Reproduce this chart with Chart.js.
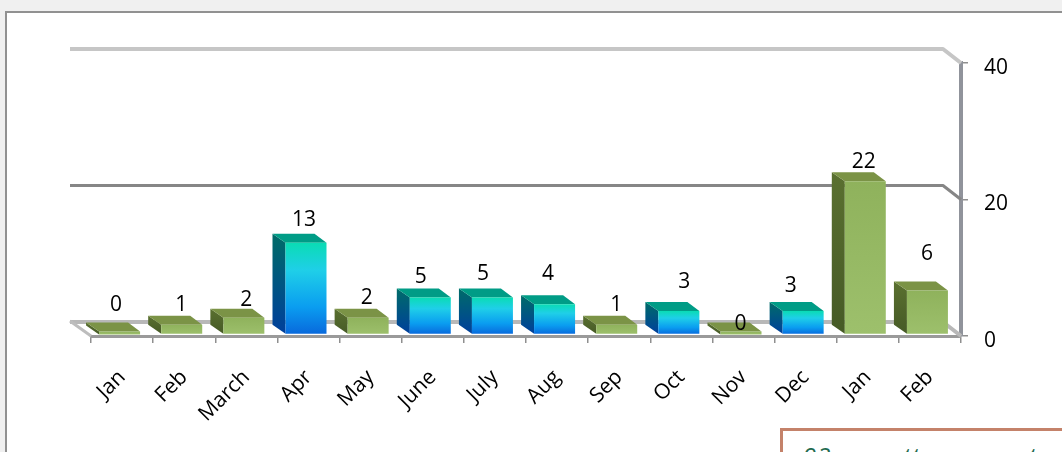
<!DOCTYPE html>
<html lang="en">
<head>
    <meta charset="UTF-8">
    <title>Monthly bars</title>
    <script src="https://cdn.jsdelivr.net/npm/chart.js"></script>
    <style>
        html, body { margin: 0; height: 100%; overflow: hidden; background: #f0f0f0; }
        #panel { position: absolute; left: 5px; top: 11px; width: 1100px; height: 500px; background: #fff; border: 2px solid #919191; }
        #note { position: absolute; left: 780px; top: 428px; width: 400px; height: 80px; background: #fff; border: 3px solid #c4826a;
                box-sizing: border-box; padding: 8px 0 0 20px; font: italic 24px "Open Sans", sans-serif; letter-spacing: 1px; color: #1f6b50; white-space: nowrap; }
        #myChart { position: absolute; left: 0; top: 0; }
    </style>
</head>
<body>
    <div id="panel"></div>
    <div id="note">92 mouettes au cent</div>
    <canvas id="myChart" width="1062" height="452"></canvas>

    <script>
        const months = ['Jan', 'Feb', 'March', 'Apr', 'May', 'June', 'July', 'Aug', 'Sep', 'Oct', 'Nov', 'Dec', 'Jan', 'Feb'];
        const counts = [0, 1, 2, 13, 2, 5, 5, 4, 1, 3, 0, 3, 22, 6];
        const blueBars = [false, false, false, true, false, true, true, true, false, true, false, true, false, false];
        const yTicks = [0, 20, 40];

        const labelFont = '"Open Sans", sans-serif';

        // the value labels sit irregularly in the original, nudge each one by hand
        const labelDx = [-6, -3, 0, -4.5, -4, -12, -12, -9, -3, 3, -3, -15, -4, -3];
        const labelDy = [-31, -24, -22, -27, -24, -25, -28, -35, -24, -33.5, -12, -29.5, -24, -41];

        const wallColors = ['#b8b8b8', '#868686', '#c6c6c6'];
        const inflate = 1.5;

        const fillPoly = (ctx, points, fill) => {
            ctx.fillStyle = fill;
            ctx.beginPath();
            points.forEach((p, i) => i ? ctx.lineTo(p[0], p[1]) : ctx.moveTo(p[0], p[1]));
            ctx.closePath();
            ctx.fill();
        };

        const fakeDepthPlugin = {
            id: 'fakeDepthPlugin',
            beforeDatasetsDraw: (chart) => {
                const { ctx, chartArea, scales: { y } } = chart;
                const backLeft = chartArea.left - 21;
                const backRight = chartArea.right - 18;

                // back wall lines with the bend down to the axis
                ctx.save();
                ctx.lineJoin = 'round';
                yTicks.forEach((tick, i) => {
                    const py = y.getPixelForValue(tick);
                    ctx.strokeStyle = wallColors[i];
                    ctx.lineWidth = i === 1 ? 3 : 4;
                    ctx.beginPath();
                    ctx.moveTo(backLeft, py - 14);
                    ctx.lineTo(backRight, py - 14);
                    ctx.lineTo(chartArea.right, py);
                    ctx.stroke();
                });
                const floorY = y.getPixelForValue(0);
                ctx.strokeStyle = '#bdbdbd';
                ctx.lineWidth = 3;
                ctx.beginPath();
                ctx.moveTo(backLeft, floorY - 15);
                ctx.lineTo(chartArea.left, floorY);
                ctx.stroke();
                ctx.restore();

                // bars are shifted a little up and left of their axis position
                ctx.save();
                ctx.translate(-2.5, -3);
                chart.getDatasetMeta(0).data.forEach((bar, i) => {
                    const left = bar.x - bar.width / 2 - inflate;
                    const right = bar.x + bar.width / 2 + inflate;
                    const top = bar.y - inflate;
                    const bottom = bar.base + inflate;
                    const side = ctx.createLinearGradient(0, top - 9, 0, bottom);
                    if (blueBars[i]) {
                        side.addColorStop(0, '#006c68');
                        side.addColorStop(1, '#003f9c');
                    } else {
                        side.addColorStop(0, '#5a7030');
                        side.addColorStop(1, '#465a26');
                    }
                    fillPoly(ctx, [[left, top], [left - 13, top - 9], [left - 13, bottom - 9], [left, bottom]], side);
                    fillPoly(ctx, [[left, top], [left - 13, top - 9], [right - 12, top - 9], [right, top]], blueBars[i] ? '#009c86' : '#7b9346');
                });
            },
            afterDatasetsDraw: (chart) => {
                const { ctx } = chart;
                ctx.restore();

                ctx.save();
                ctx.fillStyle = '#000';
                ctx.font = '21px ' + labelFont;
                ctx.textAlign = 'center';
                ctx.textBaseline = 'middle';
                chart.getDatasetMeta(0).data.forEach((bar, i) => {
                    ctx.fillText(String(counts[i]), bar.x + labelDx[i], bar.y + labelDy[i]);
                });
                ctx.restore();
            }
        };

        const frontFill = (context) => {
            if (context.type !== 'data') return '#9cc06a';
            const { ctx, scales: { y } } = context.chart;
            const top = y.getPixelForValue(counts[context.dataIndex]) - inflate;
            const bottom = y.getPixelForValue(0) + inflate;
            // scales have no pixels yet on the first pass
            if (!isFinite(top) || !isFinite(bottom)) return '#9cc06a';
            const g = ctx.createLinearGradient(0, top, 0, bottom);
            if (blueBars[context.dataIndex]) {
                g.addColorStop(0, '#0adcb4');
                g.addColorStop(0.3, '#1fcfe8');
                g.addColorStop(0.7, '#0a9df0');
                g.addColorStop(1, '#0868dc');
            } else {
                g.addColorStop(0, '#8fb25c');
                g.addColorStop(1, '#9dc06c');
            }
            return g;
        };

        const config = {
            type: 'bar',
            data: {
                labels: months,
                datasets: [{
                    data: counts,
                    backgroundColor: frontFill,
                    borderWidth: 0,
                    barThickness: 38,
                    inflateAmount: inflate,
                    clip: false
                }]
            },
            options: {
                responsive: false,
                animation: false,
                layout: { padding: { left: 91, top: 63 } },
                plugins: {
                    legend: { display: false },
                    title: { display: false },
                    tooltip: { enabled: false }
                },
                scales: {
                    x: {
                        afterFit: (scale) => { scale.height = 116; },
                        grid: { drawOnChartArea: false, tickLength: 7, color: '#8f8f8f', lineWidth: 1.5 },
                        border: { color: '#9a9a9a', width: 3 },
                        ticks: {
                            color: '#000',
                            font: { family: labelFont, size: 21 },
                            minRotation: 45,
                            maxRotation: 45,
                            padding: 22,
                            autoSkip: false
                        }
                    },
                    y: {
                        position: 'right',
                        min: 0,
                        max: 40,
                        afterFit: (scale) => { scale.width = 101; },
                        afterBuildTicks: (scale) => { scale.ticks = yTicks.map(v => ({ value: v })); },
                        grid: { drawOnChartArea: false, tickLength: 7, color: '#8f8f8f', lineWidth: 1.5 },
                        border: { color: '#90939b', width: 4 },
                        ticks: {
                            color: '#000',
                            font: { family: labelFont, size: 21 },
                            padding: 16,
                            labelOffset: 5
                        }
                    }
                }
            },
            plugins: [fakeDepthPlugin]
        };

        new Chart(document.getElementById('myChart').getContext('2d'), config);
    </script>
</body>
</html>
